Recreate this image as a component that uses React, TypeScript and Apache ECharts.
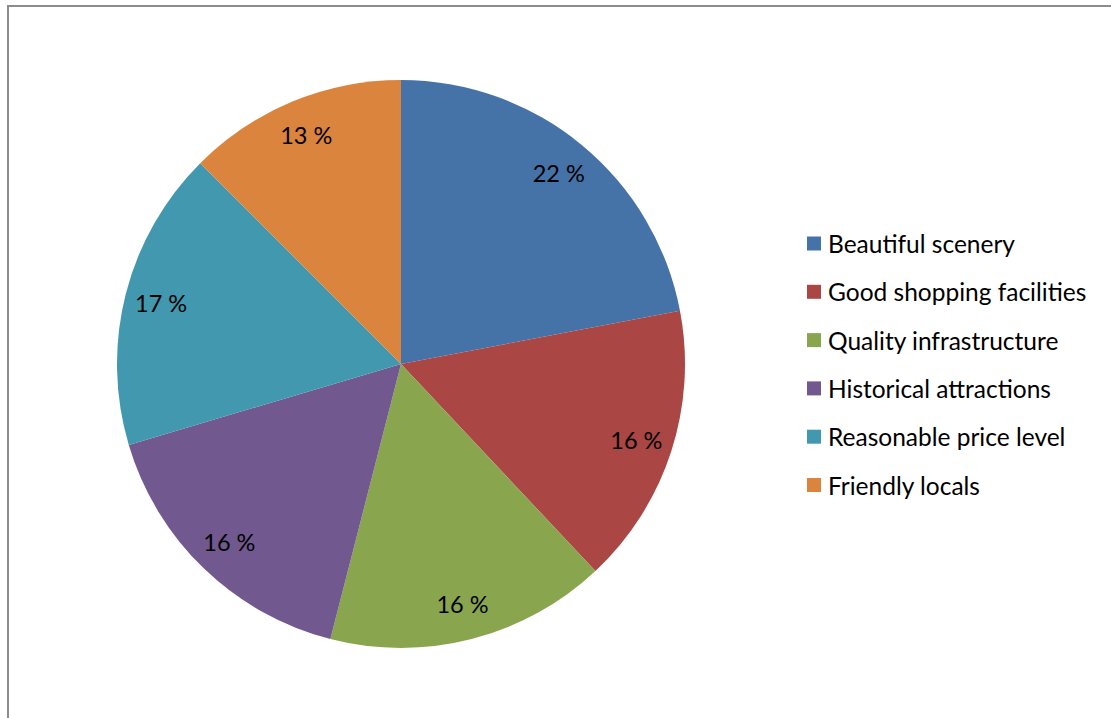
import React, { useEffect, useRef } from "react";
import * as echarts from "echarts";

const categories = [
  "Beautiful scenery",
  "Good shopping facilities",
  "Quality infrastructure",
  "Historical attractions",
  "Reasonable price level",
  "Friendly locals",
];
const values = [22, 16, 16, 16.4, 17.1, 12.5];
const labels = ["22 %", "16 %", "16 %", "16 %", "17 %", "13 %"];
const colors = ["#4572A7", "#AA4643", "#89A54E", "#71588F", "#4198AF", "#DB843D"];

export default function App() {
  const ref = useRef<HTMLDivElement>(null);
  useEffect(() => {
    if (!ref.current) return;
    const chart = echarts.init(ref.current, null, { renderer: "svg" });
    const data = categories.map((name, i) => ({ name, value: values[i], itemStyle: { color: colors[i] } }));
    const font = "Lato";
    chart.setOption({
      animation: false,
      backgroundColor: "#ffffff",
      graphic: [
        {
          type: "rect",
          shape: { x: 8, y: 6, width: 1300, height: 900 },
          style: { fill: "none", stroke: "#8c8c8c", lineWidth: 2 },
          silent: true,
        },
      ],
      legend: {
        orient: "vertical",
        left: 807,
        top: 231,
        padding: 0,
        data: categories,
        icon: "rect",
        itemWidth: 14,
        itemHeight: 14,
        itemGap: 23.3,
        textStyle: { fontFamily: font, fontSize: 24.5, color: "#000", lineHeight: 24, padding: [0, 0, 0, 2] },
      },
      series: [
        {
          type: "pie",
          center: [401, 364],
          radius: [0, 284],
          startAngle: 90,
          clockwise: true,
          data,
          label: { show: false },
          labelLine: { show: false },
          itemStyle: { borderWidth: 0 },
          silent: true,
        },
        {
          type: "pie",
          center: [401, 364],
          radius: [205, 284],
          startAngle: 90,
          clockwise: true,
          data: categories.map((name, i) => ({ name, value: values[i] })),
          itemStyle: { color: "rgba(0,0,0,0)", borderWidth: 0 },
          label: {
            show: true,
            position: "inside",
            formatter: (p: any) => labels[p.dataIndex],
            fontFamily: font,
            fontSize: 23.5,
            color: "#000",
          },
          labelLine: { show: false },
          silent: true,
        },
      ],
    });
    return () => chart.dispose();
  }, []);
  return <div ref={ref} style={{ position: "fixed", left: 0, top: 0, width: 1111, height: 718 }} />;
}
